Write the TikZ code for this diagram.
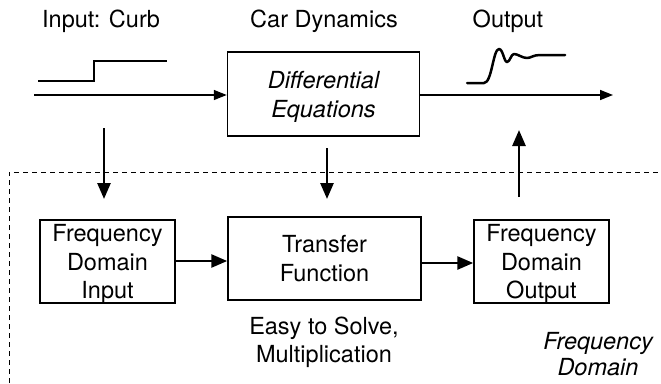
\documentclass[tikz,border=0pt]{standalone}
\usepackage{fontspec}
\setmainfont{TeX Gyre Heros}
\usetikzlibrary{arrows.meta}
\tikzset{
  txt/.style={font=\fontsize{23.5}{28}\selectfont, inner sep=0pt, align=center},
  blk/.style={draw, line width=1.5pt, inner sep=0pt, text depth=0pt, align=center, font=\fontsize{23.5}{28.5}\selectfont},
  thinarr/.style={line width=1.5pt, -{Triangle[length=13pt,width=10pt]}},
  thickarr/.style={line width=2.7pt, -{Triangle[length=16pt,width=13pt]}},
}
\begin{document}
\begin{tikzpicture}[x=1pt,y=-1pt]
\useasboundingbox (0,0) rectangle (661,383);
% labels
\node[txt, anchor=base] (lin) at (101,27) {Input: Curb};
\node[txt, anchor=base] (lcar) at (324,27) {Car Dynamics};
\node[txt, anchor=base] (lout) at (508,27) {Output};
% boxes
\node[blk, minimum width=192pt, minimum height=84pt, font=\fontsize{23.5}{29}\selectfont\itshape] (de) at (323.5,94) {Differential\\Equations};
\node[blk, minimum width=135pt, minimum height=83pt] (fdi) at (107.5,261.5) {Frequency\\Domain\\Input};
\node[blk, minimum width=193pt, minimum height=83pt] (tf) at (324.5,258.5) {Transfer\\Function};
\node[blk, minimum width=135pt, minimum height=83pt] (fdo) at (541.5,261.5) {Frequency\\Domain\\Output};
\node[txt, font=\fontsize{23.5}{28}\selectfont, anchor=base] (easy) at (324,362) {Easy to Solve,\\Multiplication};
\node[txt, font=\fontsize{23.5}{26}\selectfont\itshape, anchor=base] (fd) at (598,375) {Frequency\\Domain};
% coordinates
\coordinate (inS) at (34,95);
\coordinate (outE) at (613,95);
\coordinate (a1s) at (104,128);
\coordinate (a1e) at (104,199);
\coordinate (a2s) at (327,148);
\coordinate (a2e) at (327,199);
\coordinate (a3s) at (519,197);
\coordinate (a3e) at (519,130);
% top arrows
\draw[thinarr] (inS) -- (de.west |- inS);
\draw[thinarr] (de.east |- outE) -- (outE);
% vertical arrows
\draw[thickarr] (a1s) -- (a1e);
\draw[thickarr] (a2s) -- (a2e);
\draw[thickarr] (a3s) -- (a3e);
% bottom arrows
\draw[thickarr] (fdi.east |- 0,261) -- (tf.west |- 0,261);
\draw[thickarr] (tf.east |- 0,263) -- (fdo.west |- 0,263);
% step input
\draw[line width=1.2pt] (38,81) -- (94,81) -- (94,61) -- (167,61);
% output response
\draw[line width=2.5pt, line join=round, line cap=round]
  (467,83) -- (484,83) .. controls (492,83) and (493,49) .. (499,49)
  .. controls (503,49) and (504,62) .. (507,62)
  .. controls (510,62) and (511,54) .. (514,54)
  .. controls (518,54) and (522,58) .. (527,58)
  .. controls (531,58) and (533,55) .. (540,55) -- (565,55);
% dashed frequency domain boundary
\draw[line width=1pt, dash pattern=on 5pt off 4pt] (9,383) -- (9,172) -- (661,172);
\end{tikzpicture}
\end{document}
